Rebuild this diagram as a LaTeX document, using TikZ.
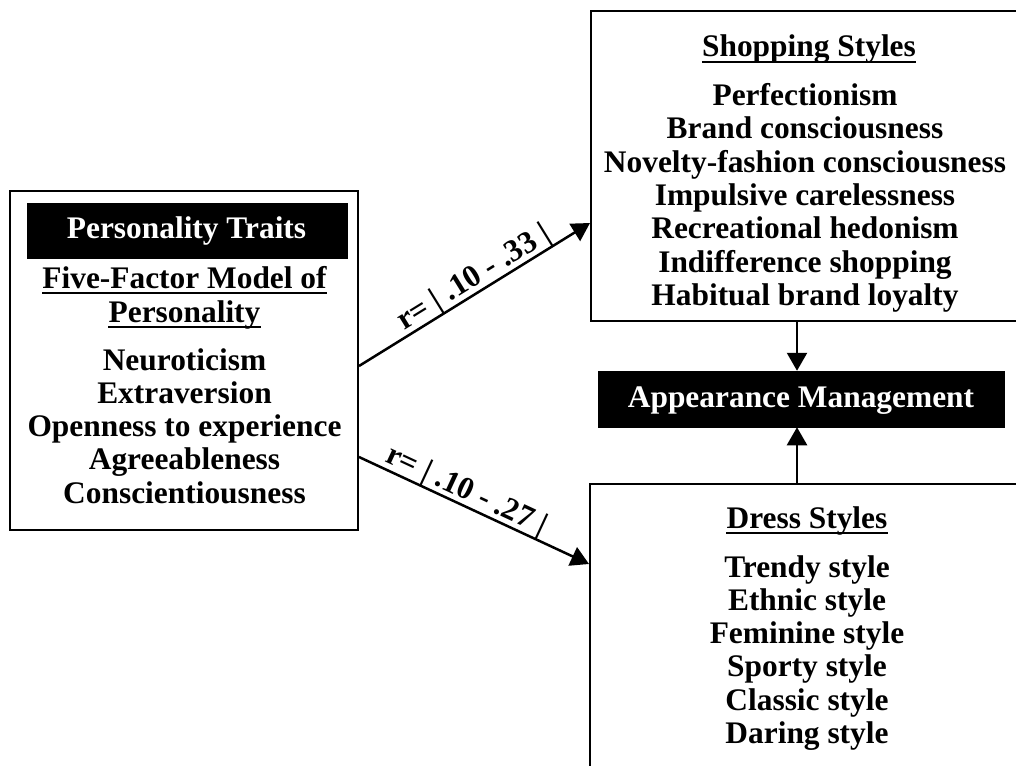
\documentclass[tikz,border=0pt]{standalone}
\usepackage{fontspec}
\setmainfont{Liberation Serif}
\usetikzlibrary{arrows.meta}
\begin{document}
\begin{tikzpicture}[x=1pt,y=-1pt,
  txt/.style={inner sep=0pt, text height=22pt, text depth=7pt, font=\fontsize{31.4}{33.3}\selectfont\bfseries, anchor=base},
  wtxt/.style={txt, text=white},
  box/.style={draw, line width=2pt, inner sep=0pt, fill=white},
  blk/.style={fill=black, draw=black, line width=0.5pt, inner sep=0pt},
  arr/.style={line width=2.5pt, -{Triangle[length=18pt,width=20pt]}},
  uline/.style={line width=2.2pt},
  lbl/.style={inner sep=0pt, text depth=0pt, font=\fontsize{31.4}{33.3}\selectfont\bfseries, sloped, above=5pt}]
\useasboundingbox (0,0) rectangle (1016,765);

% boxes
\node[box, minimum width=348pt, minimum height=339pt] (left) at (184,360.5) {};
\node[blk, minimum width=320pt, minimum height=55pt] (pt) at (187,230.5) {};
\node[box, minimum width=431pt, minimum height=310pt] (shop) at (806.5,166) {};
\node[box, minimum width=432pt, minimum height=316pt] (dress) at (806,642) {};
\node[blk, minimum width=406pt, minimum height=56pt] (app) at (801,399) {};

% left box texts
\node[wtxt] (ptt) at (186.5,238) {Personality Traits};
\node[txt] (ffm1) at (184.5,288) {Five-Factor Model of};
\node[txt] (ffm2) at (184.5,322) {Personality};
\draw[uline] ([yshift=-5pt]ffm1.base west) -- ([yshift=-5pt]ffm1.base east);
\draw[uline] ([yshift=-5pt]ffm2.base west) -- ([yshift=-5pt]ffm2.base east);
\foreach \t [count=\i from 0] in {Neuroticism,Extraversion,Openness to experience,Agreeableness,Conscientiousness}
  \node[txt] (l\i) at (184.5,370+33.3*\i) {\t};

% shopping styles
\node[txt] (sh) at (809,57) {Shopping Styles};
\draw[uline] ([yshift=-5pt]sh.base west) -- ([yshift=-5pt]sh.base east);
\foreach \t [count=\i from 0] in {Perfectionism,Brand consciousness,Novelty-fashion consciousness,Impulsive carelessness,Recreational hedonism,Indifference shopping,Habitual brand loyalty}
  \node[txt] (s\i) at (805,105.7+33.3*\i) {\t};

% appearance management
\node[wtxt] (appt) at (801,407) {Appearance Management};

% dress styles
\node[txt] (dh) at (807,528) {Dress Styles};
\draw[uline] ([yshift=-5pt]dh.base west) -- ([yshift=-5pt]dh.base east);
\foreach \t [count=\i from 0] in {Trendy style,Ethnic style,Feminine style,Sporty style,Classic style,Daring style}
  \node[txt] (d\i) at (807,577+33.3*\i) {\t};

% connectors
\draw[arr] ([yshift=-5.5pt]left.east) -- node[lbl, pos=0.53] {r= | .10 - .33 |} ([yshift=-57pt]shop.west);
\draw[arr] ([yshift=-96.5pt]left.east) -- node[lbl, pos=0.44] {r= | .10 - .27 |} ([yshift=78pt]dress.west);
\draw[arr] ([xshift=-4pt]app.north |- shop.south) -- ([xshift=-4pt]app.north);
\draw[arr] ([xshift=-4pt]app.south |- dress.north) -- ([xshift=-4pt]app.south);
\end{tikzpicture}
\end{document}
